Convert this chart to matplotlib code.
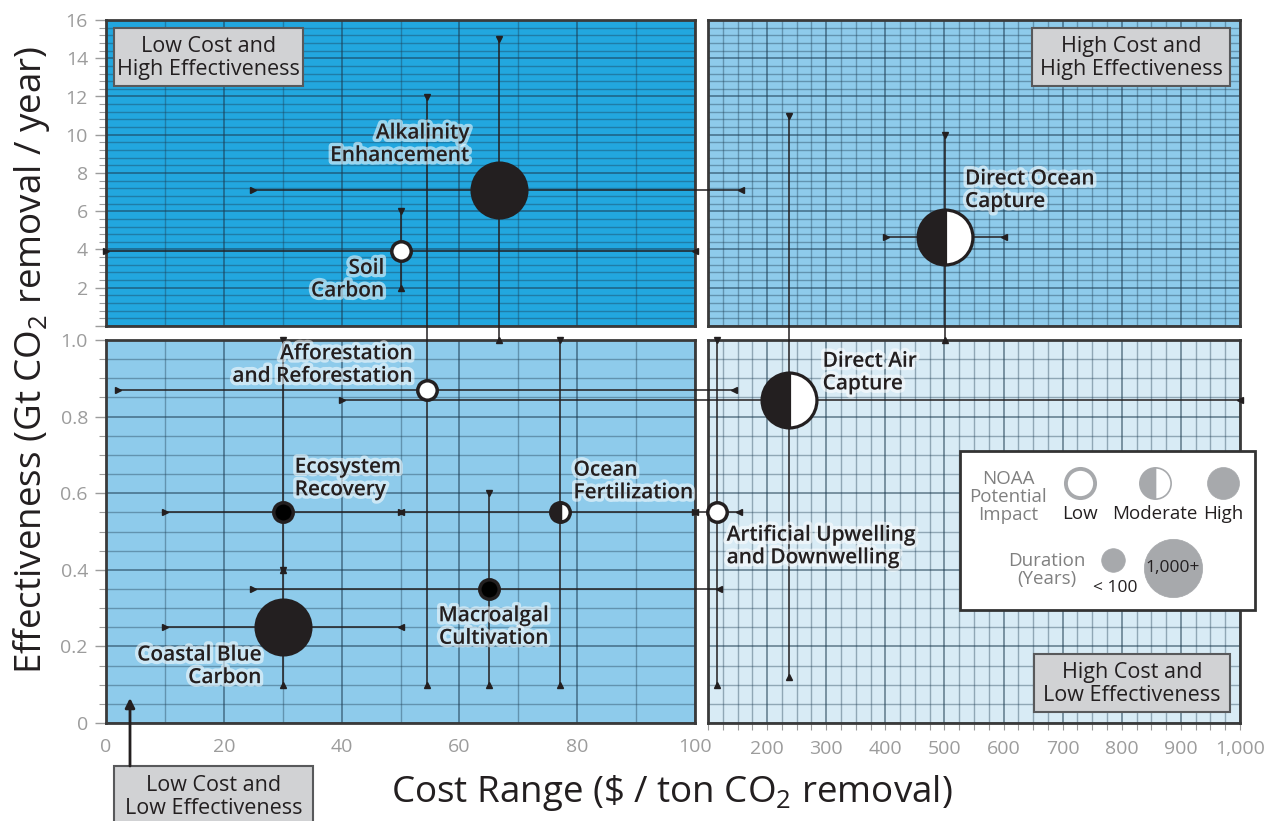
import matplotlib
import numpy as np
from matplotlib import pyplot as plt
from matplotlib import patheffects as pe
from matplotlib.patches import Rectangle
from matplotlib.ticker import MultipleLocator, FuncFormatter

matplotlib.use("Agg")

W, H = 1267, 821

plt.rcParams["font.family"] = ["Open Sans", "DejaVu Sans"]
plt.rcParams["mathtext.fontset"] = "custom"
plt.rcParams["mathtext.rm"] = "Open Sans"
plt.rcParams["mathtext.it"] = "Open Sans:italic"
plt.rcParams["mathtext.bf"] = "Open Sans:bold"

# ---- data ----
names = [
    "Alkalinity\nEnhancement",
    "Soil\nCarbon",
    "Afforestation\nand Reforestation",
    "Direct Air\nCapture",
    "Direct Ocean\nCapture",
    "Ecosystem\nRecovery",
    "Ocean\nFertilization",
    "Artificial Upwelling\nand Downwelling",
    "Macroalgal\nCultivation",
    "Coastal Blue\nCarbon",
]
cost = [66.7, 50, 54.5, 235, 500, 30, 77, 113, 65, 30]
effect = [7.1, 3.95, 0.87, 0.845, 4.65, 0.55, 0.55, 0.55, 0.35, 0.25]
cost_lo = [25, 0, 2, 40, 400, 10, 50, 100, 25, 10]
cost_hi = [155, 100, 142, 1000, 600, 50, 100, 150, 117, 50]
eff_lo = [1.0, 2, 0.1, 0.12, 1.0, 0.4, 0.1, 0.1, 0.1, 0.1]
eff_hi = [15, 6, 12, 11, 10, 1.0, 1.0, 1.0, 0.6, 0.4]
impact = ["high", "low", "low", "moderate", "moderate", "high", "moderate", "low", "high", "high"]
duration = ["long", "short", "short", "long", "long", "short", "short", "short", "short", "long"]

# label placement (offset in pixels from the point, alignment)
label_pos = [
    (-29, 46, "right"), (-16, -29, "right"), (-14, 25, "right"), (34, 27, "left"),
    (20, 47, "left"), (12, 34, "left"), (14, 31, "left"), (10, -34, "left"),
    (5, -38, "center"), (-21, -39, "right"),
]

INK = "#231f20"
GRAYTXT = "#9c9c9c"
LEGGRAY = "#a7a9ac"


def px_rect(x0, y0, x1, y1):
    return [x0 / W, 1 - y1 / H, (x1 - x0) / W, (y1 - y0) / H]


# broken axes: 0-100 linear on the left, 100-1000 compressed on the right
def fwd_x(x):
    x = np.asarray(x, dtype=float)
    return np.where(x <= 100, x * 5.89, 603 + (x - 100) * 0.59)


def inv_x(v):
    v = np.asarray(v, dtype=float)
    return np.where(v <= 589, v / 5.89, 100 + np.maximum(v - 603, 0) / 0.59)


def fwd_y(y):
    y = np.asarray(y, dtype=float)
    return np.where(y <= 1, y * 383, 397 + y * 19.15)


def inv_y(v):
    v = np.asarray(v, dtype=float)
    return np.where(v <= 383, v / 383, np.maximum((v - 397) / 19.15, 1.0))


fig = plt.figure(figsize=(W / 100, H / 100), dpi=100)

panels = [
    # rect, xlim, ylim, face, xmaj, xmin, ymaj, ymin, show x labels, show y labels
    ((106, 20, 695, 326), (0, 100), (0, 16), "#22a7df", 20, 10, 2, 0.4, False, True),
    ((708, 20, 1240, 326), (100, 1000), (0, 16), "#8ecbeb", 100, 25, 2, 0.4, False, False),
    ((106, 340, 695, 723), (0, 100), (0, 1), "#8ecbeb", 20, 10, 0.2, 0.05, True, True),
    ((708, 340, 1240, 723), (100, 1000), (0, 1), "#d8ebf5", 100, 25, 0.2, 0.05, True, False),
]

for rect, xl, yl, face, xmaj, xmin, ymaj, ymin, showx, showy in panels:
    pa = fig.add_axes(px_rect(*rect))
    pa.set_facecolor(face)
    pa.set_xlim(*xl)
    pa.set_ylim(*yl)
    pa.xaxis.set_major_locator(MultipleLocator(xmaj))
    pa.xaxis.set_minor_locator(MultipleLocator(xmin))
    pa.yaxis.set_major_locator(MultipleLocator(ymaj))
    pa.yaxis.set_minor_locator(MultipleLocator(ymin))
    pa.grid(which="major", color="#1b3a4f", alpha=0.55, lw=1.3)
    pa.grid(which="minor", color="#1b3a4f", alpha=0.38, lw=1.0)
    pa.set_axisbelow(True)
    for sp in pa.spines.values():
        sp.set_color("#3a3a3a")
        sp.set_linewidth(2)
    pa.tick_params(axis="both", which="both", colors=GRAYTXT, labelsize=14)
    if showy:
        pa.tick_params(axis="y", which="major", length=8, width=1, direction="out", pad=5)
        pa.tick_params(axis="y", which="minor", length=5, width=0.8, direction="out")
        if yl[1] > 1:
            pa.yaxis.set_major_formatter(FuncFormatter(lambda v, p: "" if v == 0 else f"{v:g}"))
        else:
            pa.yaxis.set_major_formatter(FuncFormatter(lambda v, p: "0" if v == 0 else f"{v:.1f}"))
    else:
        pa.tick_params(axis="y", which="both", length=0, labelleft=False)
    if showx:
        if xl[0] == 100:
            pa.tick_params(axis="x", which="both", length=5, width=0.8, pad=7)
            pa.xaxis.set_major_formatter(FuncFormatter(lambda v, p: "" if v == 100 else f"{int(v):,}"))
        else:
            pa.tick_params(axis="x", which="both", length=0, pad=11)
            pa.xaxis.set_major_formatter(FuncFormatter(lambda v, p: f"{int(v)}"))
    else:
        pa.tick_params(axis="x", which="both", length=0, labelbottom=False)

# ---- data layer ----
ax = fig.add_axes(px_rect(106, 20, 1240, 723))
ax.set_xscale("function", functions=(fwd_x, inv_x))
ax.set_yscale("function", functions=(fwd_y, inv_y))
ax.set_xlim(0, 1000)
ax.set_ylim(0, 16)
ax.axis("off")
ax.patch.set_alpha(0)

glow = [pe.withStroke(linewidth=5, foreground=(1, 1, 1, 0.55))]

for i in range(len(names)):
    x, y = cost[i], effect[i]
    ax.plot([cost_lo[i], cost_hi[i]], [y, y], color=INK, lw=1.1, zorder=3, clip_on=False)
    ax.plot([x, x], [eff_lo[i], eff_hi[i]], color=INK, lw=1.1, zorder=3, clip_on=False)
    ax.plot(cost_lo[i], y, marker=">", ms=5, color=INK, zorder=3, clip_on=False)
    ax.plot(cost_hi[i], y, marker="<", ms=5, color=INK, zorder=3, clip_on=False)
    ax.plot(x, eff_lo[i], marker="^", ms=5, color=INK, zorder=3, clip_on=False)
    ax.plot(x, eff_hi[i], marker="v", ms=5, color=INK, zorder=3, clip_on=False)

for i in range(len(names)):
    x, y = cost[i], effect[i]
    big = duration[i] == "long"
    ms = 39.5 if big else 14
    mew = 2.3 if big else 2.5
    if impact[i] == "low":
        kw = dict(mfc="white", mec=INK)
    elif impact[i] == "moderate":
        kw = dict(mfc=INK, mfcalt="white", mec=INK, fillstyle="left")
    else:
        kw = dict(mfc=INK if big else "black", mec=INK)
    ax.plot(x, y, marker="o", ms=ms, mew=mew, zorder=5, clip_on=False, **kw)

for i in range(len(names)):
    dx, dy, ha = label_pos[i]
    ax.annotate(names[i], (cost[i], effect[i]), xytext=(dx, dy), textcoords="offset pixels",
                ha=ha, va="center", multialignment=ha, fontsize=15, fontweight="semibold",
                color=INK, linespacing=1.1, zorder=6, path_effects=glow)

# ---- overlay in pixel coordinates: quadrant tags, legend, axis titles ----
ov = fig.add_axes([0, 0, 1, 1])
ov.set_xlim(0, W)
ov.set_ylim(H, 0)
ov.axis("off")
ov.patch.set_alpha(0)

quad_boxes = [
    ((114, 28, 303, 86), 58, "Low Cost and\nHigh Effectiveness"),
    ((1032, 28, 1230, 86), 58, "High Cost and\nHigh Effectiveness"),
    ((1034, 654, 1230, 712), 684, "High Cost and\nLow Effectiveness"),
    ((114, 766, 313, 835), 797, "Low Cost and\nLow Effectiveness"),
]
for (x0, y0, x1, y1), yc, txt in quad_boxes:
    ov.add_patch(Rectangle((x0, y0), x1 - x0, y1 - y0, facecolor="#d1d2d4",
                           edgecolor="#58595b", lw=1.5, clip_on=False))
    ov.text((x0 + x1) / 2, yc, txt, ha="center", va="center", fontsize=15.5,
            color=INK, linespacing=1.15)

ov.annotate("", xy=(130, 698), xytext=(130, 766),
            arrowprops=dict(arrowstyle="-|>", color=INK, lw=2, mutation_scale=14,
                            shrinkA=0, shrinkB=0))

# legend box
ov.add_patch(Rectangle((960, 451), 295, 159, facecolor="white", edgecolor="#333333", lw=2))
ov.text(1008, 497, "NOAA\nPotential\nImpact", ha="center", va="center", fontsize=13.5,
        color="#808080", linespacing=1.0)
ov.plot(1080, 483, marker="o", ms=21, mfc="white", mec=LEGGRAY, mew=2.8)
ov.plot(1155, 483, marker="o", ms=22.5, mfc=LEGGRAY, mfcalt="white", mec=LEGGRAY,
        mew=1.2, fillstyle="left")
ov.plot(1223, 483, marker="o", ms=23, mfc=LEGGRAY, mec=LEGGRAY, mew=0.5)
for lx, lt in [(1080, "Low"), (1155, "Moderate"), (1223, "High")]:
    ov.text(lx, 514, lt, ha="center", va="center", fontsize=13.5, color=INK)
ov.text(1047, 570, "Duration\n(Years)", ha="center", va="center", fontsize=13.5,
        color="#808080", linespacing=1.0)
ov.plot(1113, 560, marker="o", ms=17, mfc=LEGGRAY, mec=LEGGRAY, mew=0.5)
ov.text(1115, 588, "< 100", ha="center", va="center", fontsize=12.5, color=INK)
ov.plot(1173, 568, marker="o", ms=42, mfc=LEGGRAY, mec=LEGGRAY, mew=0.5)
ov.text(1173, 568, "1,000+", ha="center", va="center", fontsize=12.5, color=INK)

fig.text(672 / W, 1 - 793 / H, r"Cost Range (\$ / ton CO$_\mathrm{2}$ removal)",
         ha="center", va="center", fontsize=26.5, color=INK)
fig.text(32 / W, 1 - 360 / H, r"Effectiveness (Gt CO$_\mathrm{2}$ removal / year)",
         ha="center", va="center", rotation=90, fontsize=26.5, color=INK)

fig.savefig("out.png", dpi=100)
